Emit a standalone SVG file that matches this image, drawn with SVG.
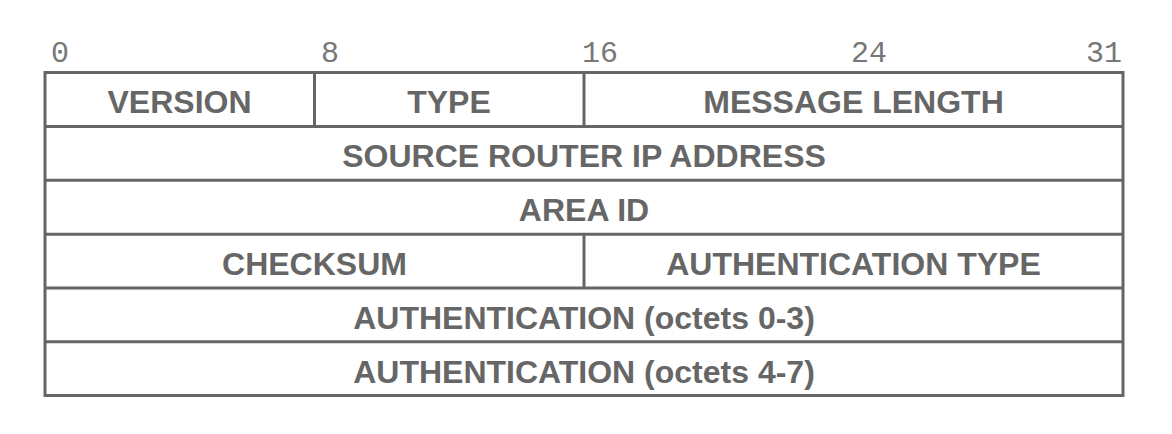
<svg xmlns="http://www.w3.org/2000/svg" width="1172" height="434" viewBox="0 0 1172 434">
<style>
.ln{stroke:#666;stroke-width:3;fill:none}
.f{font-family:"Liberation Sans",Arial,sans-serif;font-weight:bold;font-size:32px;fill:#666;text-anchor:middle}
.n{font-family:"Liberation Mono","Courier New",monospace;font-size:30px;fill:#777}
</style>
<rect width="1172" height="434" fill="#fff"/>
<g id="ruler">
<text class="n" x="51" y="62">0</text>
<text class="n" x="321" y="62">8</text>
<text class="n" x="582" y="62">16</text>
<text class="n" x="851" y="62">24</text>
<text class="n" x="1086" y="62">31</text>
</g>
<g id="connectors">
<rect class="ln" x="45" y="72.5" width="1078" height="323"/>
<line class="ln" x1="45" y1="126.4" x2="1123" y2="126.4"/>
<line class="ln" x1="45" y1="180.3" x2="1123" y2="180.3"/>
<line class="ln" x1="45" y1="234.2" x2="1123" y2="234.2"/>
<line class="ln" x1="45" y1="288" x2="1123" y2="288"/>
<line class="ln" x1="45" y1="341.8" x2="1123" y2="341.8"/>
<line class="ln" x1="314.5" y1="72.5" x2="314.5" y2="126.4"/>
<line class="ln" x1="584" y1="72.5" x2="584" y2="126.4"/>
<line class="ln" x1="584" y1="234.2" x2="584" y2="288"/>
</g>
<g id="version"><text class="f" x="179.5" y="113">VERSION</text></g>
<g id="type"><text class="f" x="449" y="113">TYPE</text></g>
<g id="message-length"><text class="f" x="853.5" y="113">MESSAGE LENGTH</text></g>
<g id="source-router"><text class="f" x="584" y="167">SOURCE ROUTER IP ADDRESS</text></g>
<g id="area-id"><text class="f" x="584" y="221">AREA ID</text></g>
<g id="checksum"><text class="f" x="314.5" y="275">CHECKSUM</text></g>
<g id="auth-type"><text class="f" x="853.5" y="275">AUTHENTICATION TYPE</text></g>
<g id="auth-0-3"><text class="f" x="584" y="329">AUTHENTICATION (octets 0-3)</text></g>
<g id="auth-4-7"><text class="f" x="584" y="383">AUTHENTICATION (octets 4-7)</text></g>
</svg>
